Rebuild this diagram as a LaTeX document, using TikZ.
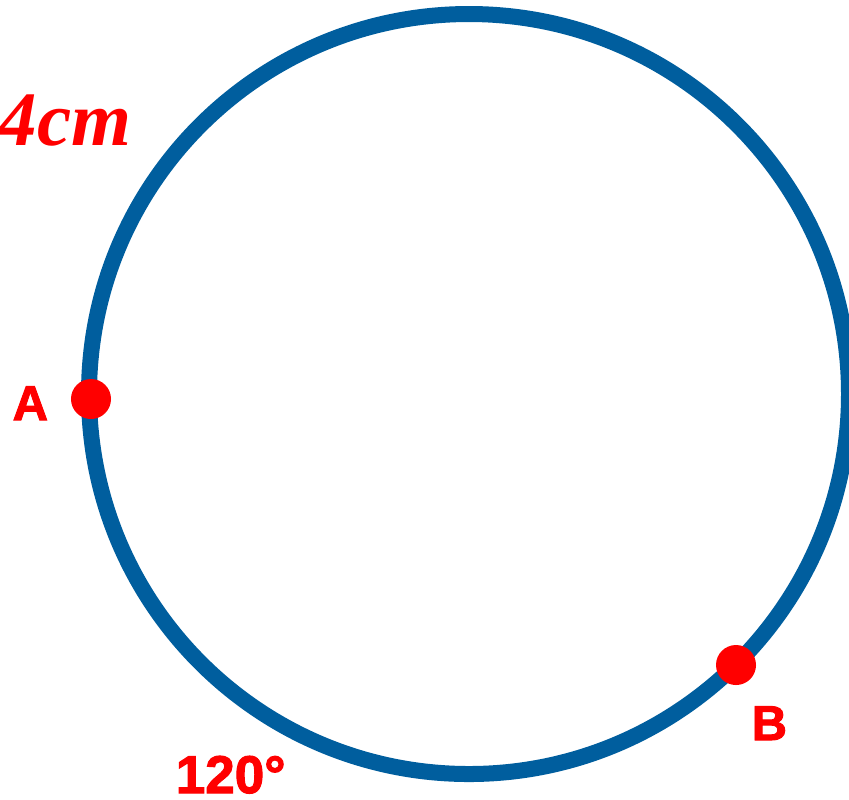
\documentclass[tikz,border=0pt]{standalone}
\usepackage{fontspec}
\setmainfont{Liberation Serif}
\newfontfamily\heavysans[FakeBold=2]{Liberation Sans Bold}
\definecolor{ringblue}{RGB}{0,94,158}
\definecolor{markred}{RGB}{255,0,0}
\begin{document}
\begin{tikzpicture}[x=0.01cm,y=-0.01cm,
  ring/.style={draw=ringblue,line width=16*0.2845pt},
  dotmark/.style={circle,fill=markred,minimum size=40*0.2845pt,inner sep=0pt},
  ptlabel/.style={text=markred,font=\heavysans\fontsize{13.9pt}{14pt}\selectfont,inner sep=0pt},
  anglabel/.style={text=markred,font=\heavysans\fontsize{15.1pt}{16pt}\selectfont,inner sep=0pt},
  lenlabel/.style={text=markred,font=\bfseries\itshape\fontsize{21.9pt}{22pt}\selectfont,inner sep=0pt}]
\useasboundingbox (0,0) rectangle (849,799);
\coordinate (O) at (469,394);
\draw[ring] (O) circle (380);
\node[dotmark] (A) at (91,399) {};
\node[dotmark] (B) at (736,665) {};
\node[ptlabel,anchor=base west] (la) at (12,420) {A};
\node[ptlabel,anchor=base west] (lb) at (751,740) {B};
\node[anglabel,anchor=base west] (ang) at (175,793) {120°};
\node[lenlabel,anchor=base west] (len) at (-2,145) {4cm};
\end{tikzpicture}
\end{document}
